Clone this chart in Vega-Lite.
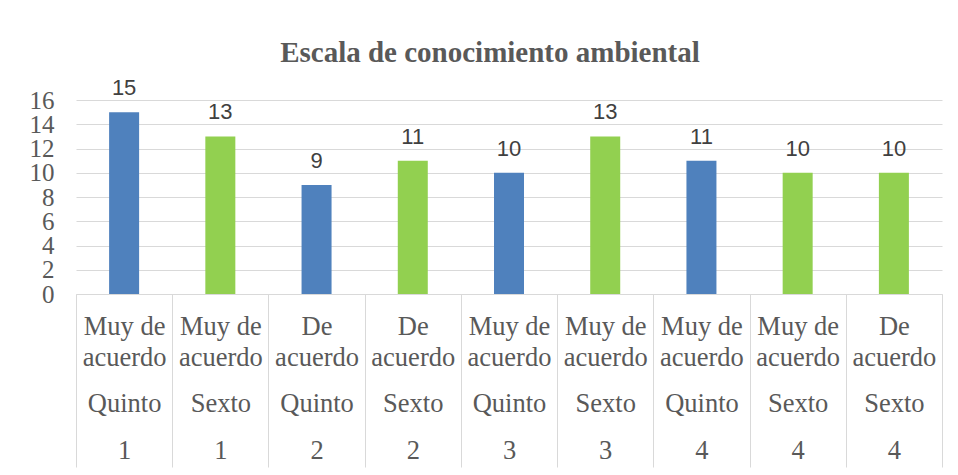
{
  "$schema": "https://vega.github.io/schema/vega-lite/v6.json",
  "width": 866,
  "height": 194,
  "autosize": {"type": "none"},
  "padding": {"left": 76, "top": 100, "right": 16, "bottom": 181},
  "background": "white",
  "title": {
    "text": "Escala de conocimiento ambiental",
    "font": "Liberation Serif",
    "fontSize": 29,
    "fontWeight": "bold",
    "color": "#595959",
    "anchor": "middle",
    "frame": "group",
    "dx": -19,
    "offset": 9
  },
  "config": {"view": {"stroke": null}},
  "data": {
    "values": [
      {"cat": "Muy de|acuerdo|Quinto|1", "grado": "Quinto", "valor": 15},
      {"cat": "Muy de|acuerdo|Sexto|1", "grado": "Sexto", "valor": 13},
      {"cat": "De|acuerdo|Quinto|2", "grado": "Quinto", "valor": 9},
      {"cat": "De|acuerdo|Sexto|2", "grado": "Sexto", "valor": 11},
      {"cat": "Muy de|acuerdo|Quinto|3", "grado": "Quinto", "valor": 10},
      {"cat": "Muy de|acuerdo|Sexto|3", "grado": "Sexto", "valor": 13},
      {"cat": "Muy de|acuerdo|Quinto|4", "grado": "Quinto", "valor": 11},
      {"cat": "Muy de|acuerdo|Sexto|4", "grado": "Sexto", "valor": 10},
      {"cat": "De|acuerdo|Sexto|4", "grado": "Sexto", "valor": 10}
    ]
  },
  "encoding": {
    "x": {
      "field": "cat",
      "type": "ordinal",
      "sort": null,
      "scale": {"paddingInner": 0, "paddingOuter": 0},
      "axis": {
        "title": null,
        "domain": true,
        "domainColor": "#d9d9d9",
        "domainWidth": 1,
        "ticks": true,
        "tickBand": "extent",
        "tickSize": 173,
        "tickColor": "#d9d9d9",
        "tickWidth": 1,
        "grid": false,
        "labelAngle": 0,
        "labelPadding": -133,
        "labelBaseline": "alphabetic",
        "labelLineHeight": 15.5,
        "labelFont": "Liberation Serif",
        "labelFontSize": 26.5,
        "labelColor": "#595959",
        "labelLimit": 0,
        "labelOverlap": false,
        "labelExpr": "isValid(datum.value) && indexof(datum.value,'|') > 0 ? [split(datum.value,'|')[0], '\u200b', split(datum.value,'|')[1], '\u200b', '\u200b', split(datum.value,'|')[2], '\u200b', '\u200b', split(datum.value,'|')[3]] : ''"
      }
    },
    "y": {
      "field": "valor",
      "type": "quantitative",
      "scale": {"domain": [0, 16], "nice": false},
      "axis": {
        "title": null,
        "values": [0, 2, 4, 6, 8, 10, 12, 14, 16],
        "domain": false,
        "ticks": false,
        "grid": true,
        "gridColor": "#d9d9d9",
        "gridWidth": 1,
        "labelOverlap": false,
        "labelFont": "Liberation Serif",
        "labelFontSize": 25,
        "labelColor": "#595959",
        "labelPadding": 22
      }
    }
  },
  "layer": [
    {
      "mark": {"type": "bar", "width": 30},
      "encoding": {
        "color": {
          "field": "grado",
          "type": "nominal",
          "scale": {"domain": ["Quinto", "Sexto"], "range": ["#4F81BD", "#92D050"]},
          "legend": null
        }
      }
    },
    {
      "mark": {
        "type": "text",
        "font": "Liberation Sans",
        "fontSize": 22,
        "color": "#404040",
        "baseline": "alphabetic",
        "dy": -17
      },
      "encoding": {"text": {"field": "valor", "type": "quantitative"}}
    }
  ]
}
